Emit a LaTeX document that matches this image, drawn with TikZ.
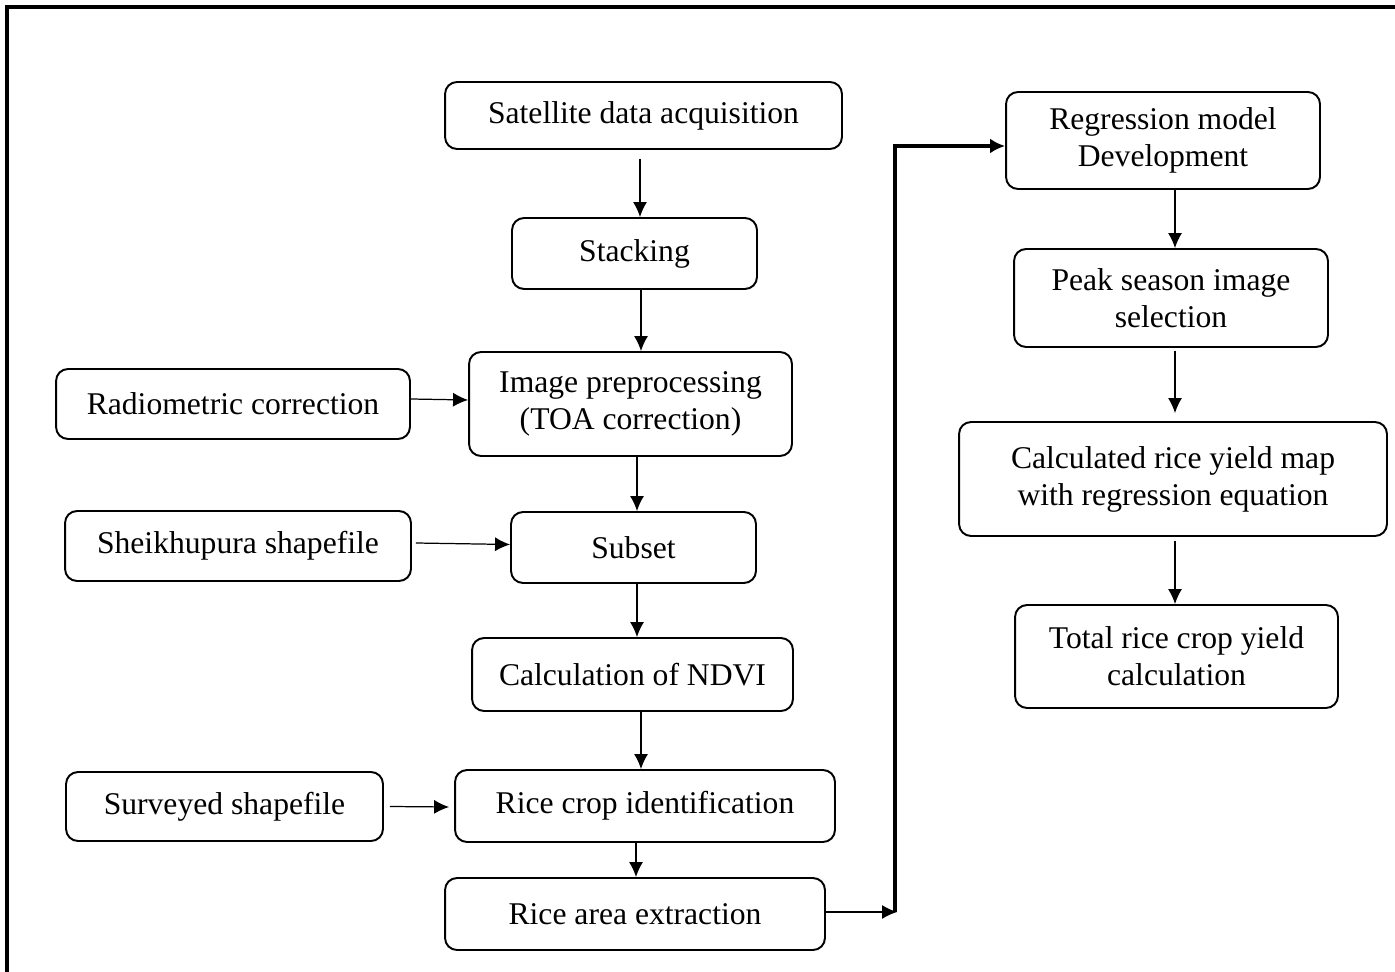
\documentclass[tikz,border=0pt]{standalone}
\usepackage{fontspec}
\setmainfont{Liberation Serif}
\usetikzlibrary{arrows.meta,positioning,calc}

\begin{document}
\begin{tikzpicture}[x=0.02cm, y=-0.02cm,
    stepbox/.style={draw, line width=1.1pt, rounded corners=0.24cm, align=center,
        inner sep=0pt, font=\fontsize{18}{21}\selectfont},
    arr/.style={-{Latex[length=0.3cm,width=0.28cm]}, line width=0.7pt},
    bigarr/.style={-{Latex[length=0.3cm,width=0.3cm]}, line width=2.2pt}]
    \useasboundingbox (0,0) rectangle (1395,972);

    % Outer frame
    \draw[line width=2pt] (7,1000) -- (7,7) -- (1420,7);

    % Main processing chain
    \node[stepbox, minimum width=7.94cm, minimum height=1.34cm] (sat) at (643.5,115.5) {Satellite data acquisition};
    \node[stepbox, minimum width=4.9cm, minimum height=1.42cm] (stack) at (634.5,253.5) {Stacking};
    \node[stepbox, minimum width=6.46cm, minimum height=2.08cm] (prep) at (630.5,404) {Image preprocessing\\(TOA correction)};
    \node[stepbox, minimum width=4.9cm, minimum height=1.42cm] (subset) at (633.5,547.5) {Subset};
    \node[stepbox, minimum width=6.42cm, minimum height=1.46cm] (ndvi) at (632.5,674.5) {Calculation of NDVI};
    \node[stepbox, minimum width=7.6cm, minimum height=1.44cm] (riceid) at (645,806) {Rice crop identification};
    \node[stepbox, minimum width=7.6cm, minimum height=1.44cm] (area) at (635,914) {Rice area extraction};

    % Side inputs
    \node[stepbox, minimum width=7.08cm, minimum height=1.4cm] (radio) at (233,404) {Radiometric correction};
    \node[stepbox, minimum width=6.92cm, minimum height=1.4cm] (sheik) at (238,546) {Sheikhupura shapefile};
    \node[stepbox, minimum width=6.34cm, minimum height=1.38cm] (survey) at (224.5,806.5) {Surveyed shapefile};

    % Yield chain
    \node[stepbox, minimum width=6.28cm, minimum height=1.94cm] (regr) at (1163,140.5) {Regression model\\Development};
    \node[stepbox, minimum width=6.28cm, minimum height=1.96cm] (peak) at (1171,298) {Peak season image\\selection};
    \node[stepbox, minimum width=8.56cm, minimum height=2.28cm] (calc) at (1173,479) {Calculated rice yield map\\with regression equation};
    \node[stepbox, minimum width=6.46cm, minimum height=2.06cm] (total) at (1176.5,656.5) {Total rice crop yield\\calculation};

    % Vertical arrows
    \draw[arr] ([xshift=-0.07cm,yshift=-0.18cm]sat.south) -- ([xshift=-0.07cm]sat.south |- stack.north);
    \draw[arr] ([xshift=0.13cm]stack.south) -- ([xshift=0.13cm]stack.south |- prep.north);
    \draw[arr] ([xshift=0.13cm]prep.south) -- ([xshift=0.13cm]prep.south |- subset.north);
    \draw[arr] ([xshift=0.07cm]subset.south) -- ([xshift=0.07cm]subset.south |- ndvi.north);
    \draw[arr] ([xshift=0.17cm]ndvi.south) -- ([xshift=0.17cm]ndvi.south |- riceid.north);
    \draw[arr] ([xshift=-0.18cm]riceid.south) -- ([xshift=-0.18cm]riceid.south |- area.north);
    \draw[arr] ([xshift=0.24cm]regr.south) -- ([xshift=0.24cm]regr.south |- peak.north);
    \draw[arr] ([xshift=0.08cm,yshift=-0.06cm]peak.south) -- ([xshift=0.08cm,yshift=0.16cm]peak.south |- calc.north);
    \draw[arr] ([xshift=0.04cm,yshift=-0.08cm]calc.south) -- ([xshift=0.04cm]calc.south |- total.north);

    % Side arrows
    \draw[arr] ([yshift=0.1cm]radio.east) -- ([yshift=0.08cm]prep.west);
    \draw[arr] ([xshift=0.08cm,yshift=0.06cm]sheik.east) -- ([yshift=0.06cm]subset.west);
    \draw[arr] ([xshift=0.12cm]survey.east) -- ([xshift=-0.1cm,yshift=-0.02cm]riceid.west);

    % Link to the yield chain
    \coordinate (jn) at (897,912);
    \draw[arr] (area.east |- jn) -- (jn);
    \draw[bigarr] ([xshift=-0.04cm]jn) |- ([yshift=-0.11cm]regr.west);
\end{tikzpicture}
\end{document}
